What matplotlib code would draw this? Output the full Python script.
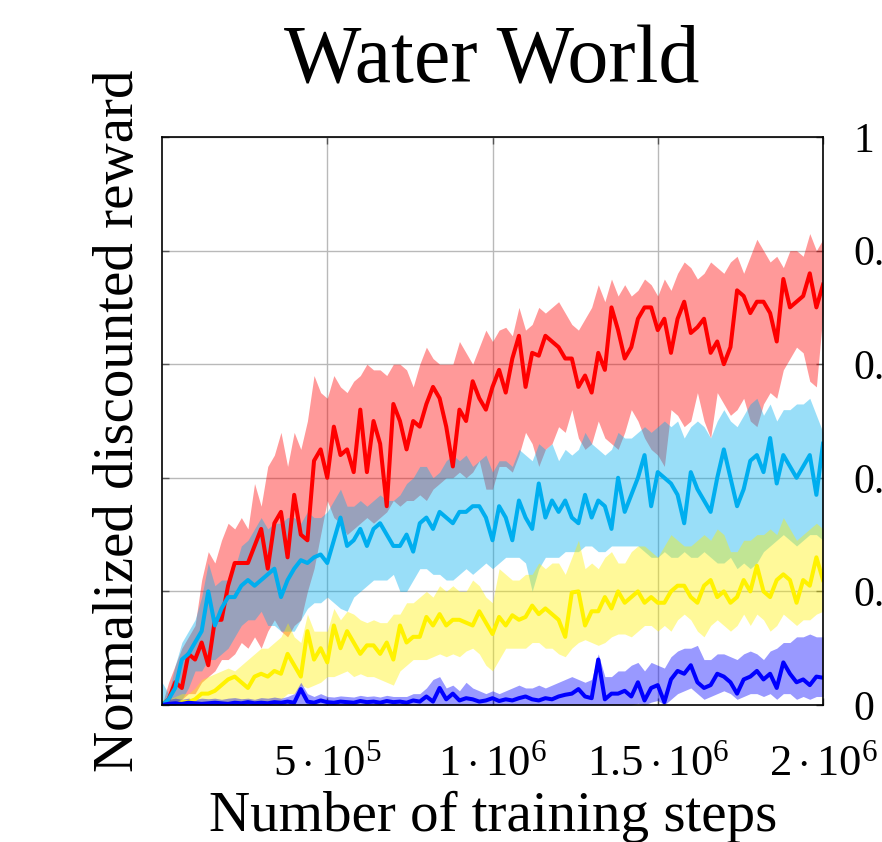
import numpy as np
import matplotlib
matplotlib.use("Agg")
import matplotlib.pyplot as plt

# ---------------- data (normalized discounted reward every 20k steps) ----------------
steps = np.linspace(0, 2e6, 101)

red_mean = [0.0, 0.01, 0.04, 0.03, 0.09, 0.08, 0.11, 0.07, 0.15, 0.15, 0.21, 0.25, 0.25, 0.25, 0.28, 0.31, 0.24, 0.32,
            0.34, 0.26, 0.37, 0.30, 0.29, 0.43, 0.45, 0.40, 0.49, 0.44, 0.45, 0.41, 0.52, 0.41, 0.50, 0.46, 0.35, 0.53,
            0.50, 0.45, 0.50, 0.49, 0.53, 0.56, 0.54, 0.49, 0.42, 0.52, 0.50, 0.57, 0.54, 0.52, 0.56, 0.59, 0.55, 0.61,
            0.65, 0.56, 0.62, 0.615, 0.65, 0.64, 0.63, 0.61, 0.61, 0.56, 0.58, 0.55, 0.62, 0.59, 0.70, 0.66, 0.61,
            0.63, 0.68, 0.70, 0.70, 0.66, 0.68, 0.62, 0.68, 0.71, 0.655, 0.665, 0.68, 0.62, 0.64, 0.60, 0.63, 0.73, 0.72,
            0.69, 0.71, 0.71, 0.69, 0.64, 0.75, 0.70, 0.71, 0.72, 0.76, 0.70, 0.74]
red_hi = [0.0, 0.04, 0.07, 0.10, 0.12, 0.14, 0.22, 0.27, 0.25, 0.29, 0.32, 0.31, 0.33, 0.31, 0.39, 0.35, 0.42, 0.44,
          0.48, 0.42, 0.48, 0.45, 0.50, 0.58, 0.55, 0.54, 0.58, 0.56, 0.55, 0.57, 0.58, 0.60, 0.59, 0.59, 0.58, 0.60,
          0.60, 0.59, 0.56, 0.60, 0.63, 0.61, 0.60, 0.60, 0.60, 0.64, 0.62, 0.60, 0.63, 0.66, 0.64, 0.66, 0.665, 0.65,
          0.70, 0.66, 0.67, 0.70, 0.69, 0.70, 0.71, 0.69, 0.67, 0.66, 0.68, 0.70, 0.74, 0.71, 0.75, 0.72, 0.74,
          0.72, 0.73, 0.75, 0.74, 0.72, 0.75, 0.73, 0.76, 0.78, 0.77, 0.75, 0.76, 0.78, 0.77, 0.76, 0.78, 0.79, 0.76,
          0.79, 0.82, 0.80, 0.78, 0.79, 0.77, 0.80, 0.80, 0.79, 0.83, 0.80, 0.82]
red_lo = [0.0, 0.0, 0.0, 0.01, 0.02, 0.02, 0.04, 0.05, 0.06, 0.08, 0.08, 0.09, 0.11, 0.10, 0.12, 0.10, 0.13, 0.15,
          0.13, 0.12, 0.14, 0.15, 0.20, 0.24, 0.30, 0.36, 0.33, 0.32, 0.30, 0.31, 0.32, 0.33, 0.32, 0.33, 0.34, 0.36,
          0.35, 0.36, 0.36, 0.37, 0.36, 0.38, 0.39, 0.40, 0.40, 0.41, 0.40, 0.41, 0.43, 0.38, 0.38, 0.42, 0.42, 0.41,
          0.44, 0.48, 0.46, 0.42, 0.45, 0.46, 0.49, 0.48, 0.52, 0.47, 0.45, 0.46, 0.50, 0.47, 0.46, 0.45, 0.48,
          0.52, 0.50, 0.47, 0.45, 0.44, 0.42, 0.52, 0.51, 0.49, 0.50, 0.55, 0.50, 0.47, 0.55, 0.53, 0.51, 0.52, 0.54,
          0.50, 0.49, 0.53, 0.55, 0.54, 0.59, 0.61, 0.63, 0.62, 0.57, 0.56, 0.69]

cyan_mean = [0.0, 0.01, 0.03, 0.08, 0.09, 0.11, 0.13, 0.20, 0.14, 0.17, 0.19, 0.19, 0.21, 0.22, 0.21, 0.22, 0.23, 0.24,
             0.19, 0.22, 0.24, 0.255, 0.25, 0.26, 0.265, 0.25, 0.29, 0.33, 0.28, 0.29, 0.31, 0.28, 0.31, 0.32, 0.30, 0.28,
             0.28, 0.30, 0.27, 0.32, 0.33, 0.31, 0.34, 0.33, 0.32, 0.34, 0.34, 0.35, 0.35, 0.33, 0.29, 0.35, 0.33, 0.29,
             0.36, 0.33, 0.31, 0.39, 0.33, 0.36, 0.34, 0.36, 0.33, 0.32, 0.37, 0.33, 0.36, 0.35, 0.31, 0.40, 0.34,
             0.37, 0.40, 0.44, 0.35, 0.41, 0.40, 0.39, 0.37, 0.32, 0.41, 0.38, 0.36, 0.34, 0.40, 0.45, 0.40, 0.35, 0.38,
             0.43, 0.44, 0.41, 0.47, 0.39, 0.44, 0.42, 0.40, 0.42, 0.44, 0.37, 0.46]
cyan_hi = [0.04, 0.02, 0.07, 0.11, 0.13, 0.15, 0.19, 0.25, 0.21, 0.22, 0.22, 0.24, 0.28, 0.29, 0.31, 0.33, 0.31, 0.32,
           0.32, 0.33, 0.33, 0.32, 0.34, 0.33, 0.33, 0.34, 0.36, 0.38, 0.35, 0.35, 0.36, 0.35, 0.36, 0.37, 0.36, 0.36,
           0.37, 0.39, 0.40, 0.42, 0.42, 0.40, 0.41, 0.43, 0.44, 0.43, 0.44, 0.42, 0.43, 0.44, 0.41, 0.43, 0.43, 0.42,
           0.45, 0.44, 0.43, 0.46, 0.45, 0.46, 0.43, 0.45, 0.44, 0.45, 0.48, 0.46, 0.45, 0.44, 0.45, 0.48, 0.47,
           0.47, 0.48, 0.49, 0.48, 0.49, 0.50, 0.49, 0.50, 0.47, 0.49, 0.50, 0.49, 0.47, 0.50, 0.52, 0.50, 0.49, 0.51,
           0.53, 0.54, 0.51, 0.53, 0.50, 0.52, 0.52, 0.53, 0.53, 0.54, 0.51, 0.48]
cyan_lo = [0.0, 0.0, 0.0, 0.01, 0.03, 0.06, 0.06, 0.08, 0.08, 0.09, 0.10, 0.12, 0.14, 0.15, 0.15, 0.165, 0.14, 0.14,
           0.13, 0.13, 0.13, 0.15, 0.17, 0.18, 0.18, 0.19, 0.18, 0.17, 0.165, 0.19, 0.20, 0.21, 0.22, 0.22, 0.22, 0.23,
           0.20, 0.20, 0.22, 0.24, 0.24, 0.23, 0.23, 0.22, 0.22, 0.23, 0.24, 0.23, 0.24, 0.25, 0.24, 0.25, 0.26, 0.26,
           0.26, 0.25, 0.20, 0.24, 0.26, 0.26, 0.26, 0.27, 0.27, 0.27, 0.28, 0.28, 0.27, 0.27, 0.28, 0.28, 0.28,
           0.28, 0.28, 0.27, 0.26, 0.26, 0.27, 0.26, 0.26, 0.27, 0.26, 0.26, 0.27, 0.26, 0.25, 0.25, 0.26, 0.24, 0.25,
           0.24, 0.25, 0.27, 0.28, 0.29, 0.30, 0.29, 0.28, 0.29, 0.30, 0.30, 0.29]

yellow_mean = [0.0, 0.0, 0.0, 0.005, 0.005, 0.01, 0.02, 0.02, 0.025, 0.035, 0.045, 0.05, 0.04, 0.03, 0.05, 0.055, 0.05,
               0.06, 0.055, 0.09, 0.07, 0.05, 0.13, 0.08, 0.10, 0.075, 0.14, 0.10, 0.13, 0.11, 0.09, 0.105, 0.105, 0.09,
               0.11, 0.08,
               0.14, 0.11, 0.12, 0.12, 0.155, 0.14, 0.16, 0.14, 0.15, 0.15, 0.145, 0.14, 0.165, 0.145, 0.125, 0.155,
               0.14, 0.158, 0.15, 0.155, 0.175, 0.16, 0.17, 0.16, 0.15, 0.12, 0.198, 0.20, 0.14, 0.165, 0.165, 0.19,
               0.17, 0.20, 0.18,
               0.19, 0.20, 0.18, 0.19, 0.18, 0.18, 0.20, 0.21, 0.21, 0.19, 0.18, 0.21, 0.22, 0.19, 0.20, 0.18, 0.19,
               0.22, 0.20, 0.245, 0.20, 0.19, 0.22, 0.23, 0.22, 0.18, 0.22, 0.21, 0.26, 0.22]
yellow_hi = [0.01, 0.01, 0.015, 0.02, 0.02, 0.03, 0.045, 0.05, 0.055, 0.06, 0.065, 0.06, 0.07, 0.08, 0.09, 0.10, 0.10,
             0.11, 0.12, 0.145, 0.12, 0.11, 0.16, 0.13, 0.13, 0.13, 0.17, 0.15, 0.165, 0.16, 0.15, 0.145, 0.15, 0.145,
             0.145, 0.16,
             0.16, 0.18, 0.18, 0.19, 0.20, 0.19, 0.21, 0.20, 0.21, 0.20, 0.20, 0.22, 0.21, 0.19, 0.18, 0.24, 0.23,
             0.22, 0.22, 0.23, 0.23, 0.25, 0.24, 0.25, 0.25, 0.23, 0.26, 0.29, 0.24, 0.25, 0.24, 0.26, 0.27, 0.25, 0.25,
             0.27, 0.28, 0.28, 0.27, 0.26, 0.28, 0.30, 0.29, 0.28, 0.28, 0.29, 0.30, 0.29, 0.31, 0.30, 0.27, 0.27,
             0.29, 0.29, 0.30, 0.30, 0.31, 0.30, 0.33, 0.31, 0.29, 0.30, 0.31, 0.32, 0.31]
yellow_lo = [0.0, 0.0, 0.0, 0.0, 0.0, 0.0, 0.0, 0.0, 0.0, 0.0, 0.0, 0.0, 0.0, 0.0, 0.0, 0.0, 0.0, 0.0,
             0.01, 0.02, 0.02, 0.035, 0.03, 0.035, 0.04, 0.05, 0.05, 0.055, 0.06, 0.05, 0.055, 0.05, 0.05, 0.045,
             0.04, 0.035,
             0.06, 0.07, 0.08, 0.08, 0.08, 0.085, 0.09, 0.085, 0.09, 0.085, 0.095, 0.10, 0.09, 0.07, 0.06, 0.08, 0.10,
             0.10, 0.10, 0.10, 0.11, 0.11, 0.10, 0.10, 0.09, 0.085, 0.10, 0.11, 0.115, 0.11, 0.105, 0.11, 0.12, 0.125,
             0.125,
             0.12, 0.13, 0.14, 0.14, 0.13, 0.14, 0.13, 0.15, 0.16, 0.15, 0.13, 0.12, 0.14, 0.15, 0.14, 0.13, 0.14,
             0.16, 0.14, 0.16, 0.15, 0.13, 0.14, 0.16, 0.15, 0.14, 0.15, 0.15, 0.16, 0.165]

blue_mean = [0.0, 0.002, 0.003, 0.002, 0.004, 0.003, 0.002, 0.003, 0.004, 0.003, 0.002, 0.004, 0.003, 0.005, 0.003,
             0.004, 0.003, 0.005, 0.004, 0.006, 0.004, 0.028, 0.006, 0.004, 0.008, 0.005, 0.004, 0.006, 0.005, 0.004,
             0.007, 0.005, 0.006, 0.004, 0.007, 0.005,
             0.006, 0.004, 0.008, 0.006, 0.015, 0.006, 0.03, 0.01, 0.02, 0.008, 0.012, 0.01, 0.006, 0.008, 0.012,
             0.007, 0.01, 0.008, 0.012, 0.015, 0.01, 0.008, 0.012, 0.01, 0.015, 0.018, 0.02, 0.028, 0.015, 0.012,
             0.08, 0.01, 0.02, 0.02, 0.025,
             0.015, 0.04, 0.008, 0.03, 0.035, 0.005, 0.045, 0.06, 0.055, 0.07, 0.04, 0.03, 0.035, 0.055, 0.05, 0.04,
             0.02, 0.045, 0.05, 0.06, 0.045, 0.055, 0.03, 0.075, 0.055, 0.04, 0.045, 0.035, 0.05, 0.048]
blue_hi = [0.005, 0.01, 0.012, 0.01, 0.012, 0.01, 0.012, 0.011, 0.012, 0.01, 0.012, 0.013, 0.011, 0.012, 0.01, 0.013,
           0.012, 0.014, 0.012, 0.015, 0.02, 0.04, 0.02, 0.015, 0.02, 0.015, 0.014, 0.016, 0.015, 0.014, 0.017, 0.015,
           0.016, 0.014, 0.017, 0.015,
           0.015, 0.015, 0.02, 0.02, 0.03, 0.045, 0.05, 0.03, 0.035, 0.025, 0.04, 0.03, 0.025, 0.02, 0.025, 0.02,
           0.025, 0.03, 0.035, 0.03, 0.03, 0.035, 0.03, 0.035, 0.04, 0.045, 0.05, 0.045, 0.04, 0.045, 0.09, 0.05,
           0.05, 0.06, 0.06,
           0.07, 0.075, 0.06, 0.075, 0.07, 0.065, 0.085, 0.095, 0.10, 0.10, 0.105, 0.08, 0.08, 0.09, 0.09, 0.085,
           0.08, 0.09, 0.095, 0.09, 0.08, 0.095, 0.10, 0.11, 0.11, 0.12, 0.12, 0.125, 0.12, 0.12]
blue_lo = [0.0, 0.0, 0.0, 0.0, 0.0, 0.0, 0.0, 0.0, 0.0, 0.0, 0.0, 0.0, 0.0, 0.0, 0.0, 0.0, 0.0, 0.0,
           0.0, 0.0, 0.0, 0.0, 0.0, 0.0, 0.0, 0.0, 0.0, 0.0, 0.0, 0.0, 0.0, 0.0, 0.0, 0.0, 0.0, 0.0,
           0.0, 0.0, 0.0, 0.0, 0.0, 0.0, 0.0, 0.0, 0.0, 0.0, 0.0, 0.0, 0.0, 0.0, 0.0, 0.0, 0.0, 0.0,
           0.0, 0.0, 0.0, 0.0, 0.0, 0.0, 0.0, 0.0, 0.0, 0.0, 0.0, 0.0, 0.0, 0.0, 0.0, 0.0, 0.0,
           0.0, 0.003, 0.0, 0.005, 0.008, 0.0, 0.01, 0.02, 0.025, 0.03, 0.02, 0.01, 0.015, 0.02, 0.025, 0.02,
           0.01, 0.015, 0.02, 0.02, 0.015, 0.02, 0.01, 0.02, 0.02, 0.01, 0.015, 0.01, 0.015, 0.015]

x_ticks = [5e5, 1e6, 1.5e6, 2e6]
x_tick_labels = [r"$5\cdot10^{5}$", r"$1\cdot10^{6}$", r"$1.5\cdot10^{6}$", r"$2\cdot10^{6}$"]
y_ticks = [0, 0.2, 0.4, 0.6, 0.8, 1.0]
y_tick_labels = ["0", "0.2", "0.4", "0.6", "0.8", "1"]

title = "Water World"
x_label = "Number of training steps"
y_label = "Normalized discounted reward"

# ---------------- style ----------------
plt.rcParams["font.family"] = ["Liberation Serif", "DejaVu Serif"]
plt.rcParams["mathtext.fontset"] = "custom"
plt.rcParams["mathtext.rm"] = "Liberation Serif"
plt.rcParams["mathtext.it"] = "Liberation Serif:italic"
plt.rcParams["mathtext.bf"] = "Liberation Serif:bold"

W, H = 882, 842
fig = plt.figure(figsize=(W / 100, H / 100), dpi=100)
ax = fig.add_axes([162 / W, 1 - 705 / H, 661 / W, 568 / H])

series = [
    (red_lo, red_hi, red_mean, "#ff0000"),
    (cyan_lo, cyan_hi, cyan_mean, "#00aeef"),
    (yellow_lo, yellow_hi, yellow_mean, "#fff200"),
    (blue_lo, blue_hi, blue_mean, "#0000ff"),
]
for lo, hi, m, c in series:
    lo_a = np.minimum(lo, m)
    hi_a = np.maximum(hi, m)
    ax.fill_between(steps, lo_a, hi_a, color=c, alpha=0.4, lw=0, zorder=2)
for lo, hi, m, c in series:
    ax.plot(steps, m, color=c, lw=2.9, zorder=3)

ax.set_xlim(0, 2e6)
ax.set_ylim(0, 1)
ax.set_xticks(x_ticks)
ax.set_xticklabels(x_tick_labels)
ax.set_yticks(y_ticks)
ax.set_yticklabels(y_tick_labels)
ax.grid(True, color="#b9b9b9", lw=1.0, zorder=1)
ax.set_axisbelow(True)
for s in ax.spines.values():
    s.set_linewidth(1.2)
    s.set_color("black")
    s.set_zorder(5)

ax.tick_params(axis="x", direction="in", length=5, width=1.0, color="#555555",
               labelsize=32, pad=28, top=True)
ax.tick_params(axis="y", direction="in", length=5, width=1.0, color="#555555",
               labelsize=30, pad=22, left=True, right=True, labelleft=False, labelright=True)

fig.text(492 / W, 1 - 83 / H, title, ha="center", va="baseline", fontsize=59)
fig.text(493 / W, 1 - 831 / H, x_label, ha="center", va="baseline", fontsize=41)
fig.text(119 / W, 1 - 421 / H, y_label, ha="center", va="center", rotation=90, fontsize=41)

fig.savefig("out.png", dpi=100)
